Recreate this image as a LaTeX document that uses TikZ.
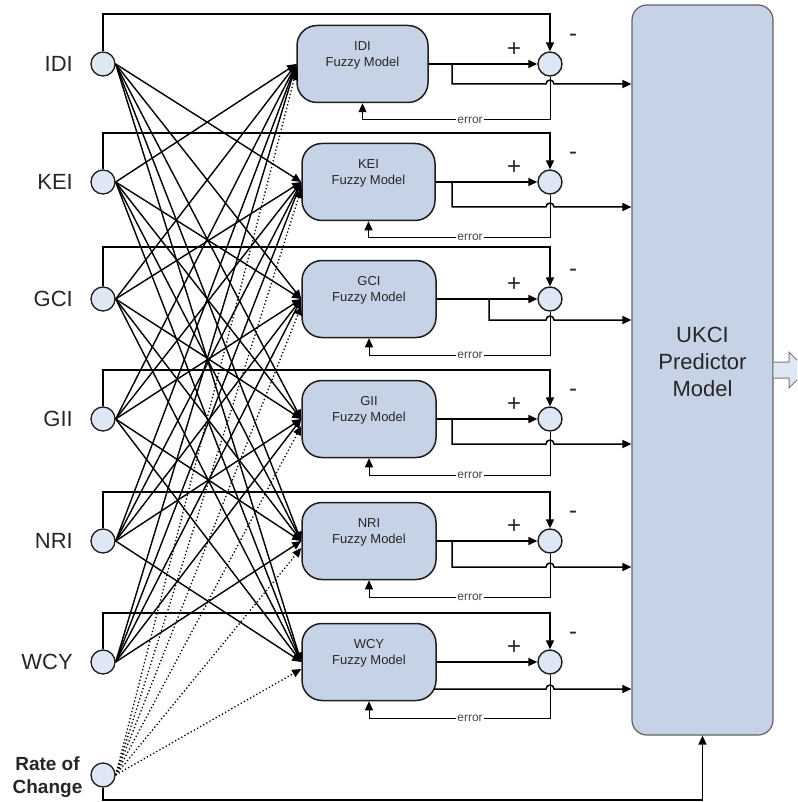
\documentclass[tikz,border=0pt]{standalone}
\usepackage{fontspec}
\setmainfont{Liberation Sans}
\usetikzlibrary{arrows.meta,calc}
\definecolor{boxfill}{RGB}{198,211,231}
\definecolor{sumfill}{RGB}{222,231,243}
\definecolor{txt}{RGB}{38,38,38}
\definecolor{edge}{RGB}{30,30,30}
\begin{document}
\begin{tikzpicture}[x=1pt,y=-1pt,
  tip/.style={-{Triangle[length=9pt,width=8pt]}},
  wire/.style={line width=1.5pt,draw=black},
  thinwire/.style={line width=1pt,draw=black},
  fan/.style={line width=1.4pt,draw=black,tip},
  dotfan/.style={line width=1.3pt,draw=black,dash pattern=on 1.3pt off 2.3pt,tip},
  incirc/.style={circle,draw=edge,line width=1.3pt,fill=sumfill,minimum size=24pt,inner sep=0pt},
  sumc/.style={circle,draw=edge,line width=1.4pt,fill=sumfill,minimum size=24pt,inner sep=0pt},
  inlabel/.style={font=\fontsize{22}{24}\selectfont,text=txt,inner sep=0pt,anchor=east},
  model/.style={rectangle,rounded corners=20pt,draw=edge,line width=1.5pt,fill=boxfill,minimum height=77pt},
  modeltext/.style={align=center,font=\fontsize{13}{16}\selectfont,text=txt,inner sep=0pt},
  sign/.style={font=\fontsize{24}{24}\selectfont,text=txt,inner sep=0pt},
  errlab/.style={font=\fontsize{12}{12}\selectfont,text=txt!85!white,fill=white,inner sep=0.8pt}
]
\useasboundingbox (0,0) rectangle (797,802);

% predictor block
\node[rectangle,rounded corners=15pt,draw=edge!70!white,line width=1.2pt,fill=boxfill,
      minimum width=141pt,minimum height=730pt] (ukci) at (702.5,370) {};
\node[align=center,font=\fontsize{22}{27}\selectfont,text=txt,inner sep=0pt] (ukcitext)
      at (702.5,362) {UKCI\\Predictor\\Model};

% outgoing block arrow
\begin{scope}
  \clip (0,0) rectangle (797,802);
  \draw[draw=edge!60!white,line width=1pt,fill=sumfill]
    (ukci.east |- 0,362) -- (789,362) -- (789,352) -- (807,370) -- (789,388) -- (789,378) -- (ukci.east |- 0,378);
\end{scope}

% input indicators
\foreach \n/\y in {IDI/64,KEI/182,GCI/299,GII/419,NRI/541,WCY/662}{
  \node[incirc] (in\n) at (103,\y) {};
  \node[inlabel] (lab\n) at (73,\y) {\n};
}
\node[incirc] (inRate) at (103,775) {};
\node[align=center,font=\bfseries\fontsize{19}{23}\selectfont,text=txt,inner sep=0pt] (labRate)
      at (47.5,777) {Rate of\\Change};

% fuzzy models, comparators and their wiring
\foreach \n/\y/\mx/\mw/\top/\bx/\by/\ey in {
  IDI/64/362.5/131/14/452/84/120,
  KEI/182/368.5/133/133/452/207/237,
  GCI/299/369/134/247/489/320/355,
  GII/419/369/134/370/452/444/475,
  NRI/541/369/134/492/452/567/597,
  WCY/662/369/134/613/0/689/718}{
  \node[model,minimum width=\mw pt] (m\n) at (\mx,\y) {};
  \node[modeltext] (t\n) at ([yshift=9pt]m\n.center) {\n\\Fuzzy Model};
  \node[sumc] (s\n) at (550,\y) {};
  \node[sign] (p\n) at (514,{\y-14}) {+};
  \node[sign] (n\n) at (573,{\y-26}) {-};
  \node[errlab] (e\n) at (470,\ey) {error};
  \coordinate (f\n) at (550,\top);
  % actual value fed back from the input
  \draw[wire,tip] (in\n.north) |- (f\n) -- (s\n.north);
  % model output into comparator
  \draw[wire,tip] (m\n.east) -- (s\n.west);
  % error path back into the model
  \draw[thinwire] (s\n.south) |- (e\n.east);
  \draw[thinwire,tip] (e\n.west) -| (m\n.south);
  % model output into the predictor, hopping over the error line
  \ifnum\bx>0
    \coordinate (b\n) at (\bx,\y);
    \coordinate (c\n) at (\bx,\by);
  \else
    \coordinate (b\n) at (434,\by);
    \coordinate (c\n) at (434,\by);
  \fi
  \coordinate (h\n) at (546,\by);
  \draw[wire,tip] (b\n) -- (c\n) -- (h\n) arc[start angle=180,end angle=0,radius=4pt] -- (ukci.west |- c\n);
}

% every indicator feeds the models of all the other indicators
\foreach \a in {IDI,KEI,GCI,GII,NRI,WCY}{
  \foreach \b in {IDI,KEI,GCI,GII,NRI,WCY}{
    \ifx\a\b\else
      \draw[fan] (in\a.east) -- (m\b.west);
    \fi
  }
}
% rate of change feeds every model
\foreach \b in {IDI,KEI,GCI,GII,NRI,WCY}{
  \draw[dotfan] (inRate.east) -- ([yshift=-7pt]m\b.west);
}

% rate of change straight into the predictor
\coordinate (rbot) at (702.5,800);
\draw[wire,tip] (inRate.south) |- (rbot) -- (ukci.south);
\end{tikzpicture}
\end{document}
